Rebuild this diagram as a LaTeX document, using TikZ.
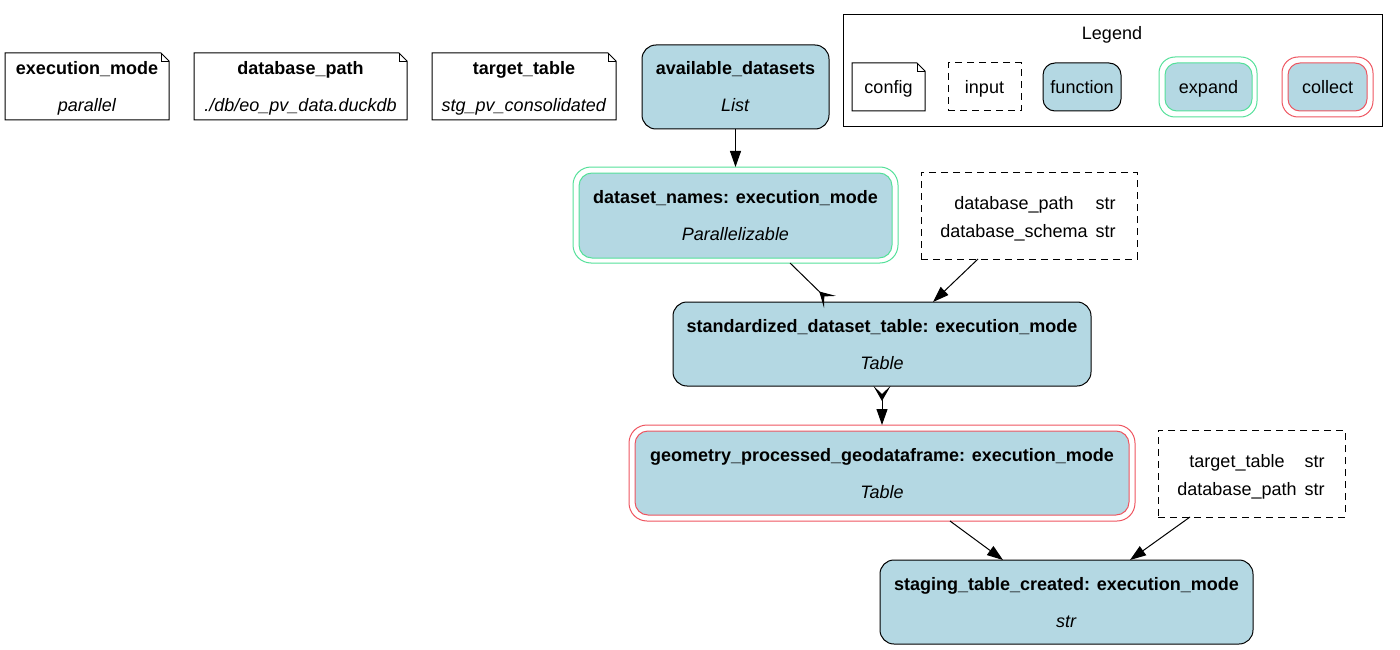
\documentclass[tikz,border=0pt]{standalone}
\usepackage{fontspec}
\setmainfont{Liberation Sans}
\usetikzlibrary{arrows.meta,calc}
\definecolor{fnblue}{HTML}{B4D8E3}
\definecolor{expgreen}{HTML}{55E09A}
\definecolor{colred}{HTML}{EE5560}
\newcommand{\lbl}[2]{\rule{0pt}{17pt}\textbf{#1}\\[15.4pt]\textit{#2}\rule[-4pt]{0pt}{4pt}}
\begin{document}
\begin{tikzpicture}[x=1pt,y=-1pt,
  every node/.style={font=\fontsize{18}{21.6}\selectfont, inner sep=0pt, outer sep=0pt, align=center},
  base/.style={rectangle, line width=1pt},
  func/.style={base, draw=black, fill=fnblue, rounded corners=14pt},
  expouter/.style={base, draw=expgreen, rounded corners=18pt},
  expinner/.style={base, draw=expgreen, fill=fnblue, rounded corners=13pt},
  colouter/.style={base, draw=colred, rounded corners=18pt},
  colinner/.style={base, draw=colred, fill=fnblue, rounded corners=13pt},
  inputbox/.style={base, draw=black, dash pattern=on 7pt off 5pt},
  notebox/.style={base},
  oneline/.style={text height=13pt, text depth=0pt},
  arr/.style={line width=1pt, -{Triangle[length=16pt,width=11pt]}},
  crowarr/.style={line width=1pt, -{Stealth[reversed,length=15pt,width=17pt,inset=8pt]}},
  crowboth/.style={line width=1pt, {Stealth[reversed,length=15pt,width=17pt,inset=8pt]}-{Triangle[length=16pt,width=11pt]}},
]
\useasboundingbox (0,0) rectangle (1400,650);

% note outlines
\newcommand{\notedraw}[1]{%
  \draw[line width=1pt] (#1.north west) -- ($(#1.north east)+(-8,0)$) -- ($(#1.north east)+(0,8)$) -- (#1.south east) -- (#1.south west) -- cycle;
  \draw[line width=0.8pt] ($(#1.north east)+(-8,0)$) -- ($(#1.north east)+(-8,8)$) -- ($(#1.north east)+(0,8)$);}

% config notes
\node[notebox, minimum width=164pt, minimum height=67pt] (cexec) at (87,86.5) {\lbl{execution\_mode}{parallel}};
\notedraw{cexec}
\node[notebox, minimum width=213pt, minimum height=67pt] (cdb) at (300.5,86.5) {\lbl{database\_path}{./db/eo\_pv\_data.duckdb}};
\notedraw{cdb}
\node[notebox, minimum width=184pt, minimum height=67pt] (ctarget) at (524,86.5) {\lbl{target\_table}{stg\_pv\_consolidated}};
\notedraw{ctarget}

% functions
\node[func, minimum width=187pt, minimum height=84pt] (avail) at (735.5,87) {\lbl{available\_datasets}{List}};

\node[expouter, minimum width=325pt, minimum height=96pt] (dsn) at (735.5,215) {};
\node[expinner, minimum width=313pt, minimum height=85pt] (dsninner) at (735.5,215.5) {\lbl{dataset\_names: execution\_mode}{Parallelizable}};

\node[inputbox, minimum width=216pt, minimum height=87pt] (in1) at (1029,215.5) {};
\node (in1text) at (1028,217.5) {%
  \fontsize{18}{28}\selectfont\begin{tabular}{@{}c@{\hspace{8pt}}l@{}}database\_path & str\\ database\_schema & str\end{tabular}};

\node[func, minimum width=418pt, minimum height=84pt] (std) at (882,344) {\lbl{standardized\_dataset\_table: execution\_mode}{Table}};

\node[colouter, minimum width=506pt, minimum height=96pt] (geo) at (882,473) {};
\node[colinner, minimum width=494pt, minimum height=84pt] (geoinner) at (882,473) {\lbl{geometry\_processed\_geodataframe: execution\_mode}{Table}};

\node[inputbox, minimum width=187pt, minimum height=87pt] (in2) at (1251.5,473.5) {};
\node (in2text) at (1251,475.5) {%
  \fontsize{18}{28}\selectfont\begin{tabular}{@{}c@{\hspace{8pt}}l@{}}target\_table & str\\ database\_path & str\end{tabular}};

\node[func, minimum width=373pt, minimum height=84pt] (stage) at (1066.5,602) {\lbl{staging\_table\_created: execution\_mode}{str}};

% edges
\draw[arr] (avail.south) -- (dsn.north);
\draw[crowarr] ([xshift=54.5pt]dsn.south) -- ([xshift=-52pt]std.north);
\draw[arr] ([xshift=-51pt]in1.south) -- ([xshift=51pt]std.north);
\draw[crowboth] (std.south) -- (geo.north);
\draw[arr] ([xshift=68pt]geo.south) -- ([xshift=-63.5pt]stage.north);
\draw[arr] ([xshift=-61.5pt]in2.south) -- ([xshift=63.5pt]stage.north);

% legend
\node[base, draw=black, minimum width=539pt, minimum height=112pt] (legend) at (1112.5,71) {};
\node[oneline] (legendtitle) at (1112,33) {Legend};
\node[notebox, oneline, minimum width=73pt, minimum height=48pt] (lconfig) at (888.5,87) {config};
\notedraw{lconfig}
\node[inputbox, oneline, minimum width=73pt, minimum height=48pt] (linput) at (984.5,87) {input};
\node[func, oneline, rounded corners=12pt, minimum width=78pt, minimum height=48pt] (lfunc) at (1082,87) {function};
\node[expouter, rounded corners=16pt, minimum width=98pt, minimum height=60pt] (lexp) at (1208,87) {};
\node[expinner, oneline, rounded corners=12pt, minimum width=87pt, minimum height=48pt] (lexpin) at (1208.5,87) {expand};
\node[colouter, rounded corners=16pt, minimum width=91pt, minimum height=60pt] (lcol) at (1327.5,87) {};
\node[colinner, oneline, rounded corners=12pt, minimum width=79pt, minimum height=48pt] (lcolin) at (1327.5,87) {collect};
\end{tikzpicture}
\end{document}
